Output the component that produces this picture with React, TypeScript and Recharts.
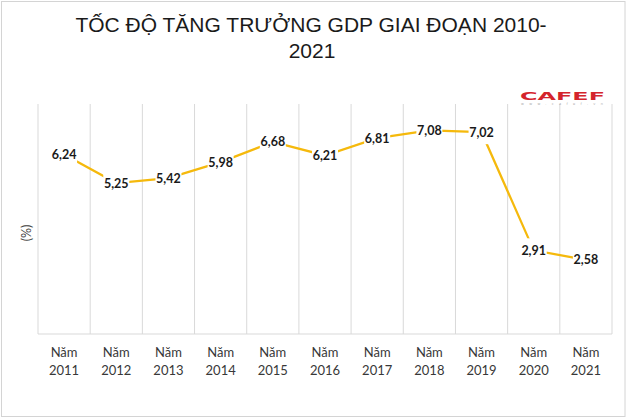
import React from "react";
import { LineChart, Line, XAxis, YAxis, CartesianGrid, LabelList } from "recharts";

const years = ["2011", "2012", "2013", "2014", "2015", "2016", "2017", "2018", "2019", "2020", "2021"];
const growth = [6.24, 5.25, 5.42, 5.98, 6.68, 6.21, 6.81, 7.08, 7.02, 2.91, 2.58];
const tickPrefix = "Năm";
const titleLine1 = "TỐC ĐỘ TĂNG TRƯỞNG GDP GIAI ĐOẠN 2010-";
const titleLine2 = "2021";
const yLabel = "(%)";
const yDomain = [0, 8];

const data = years.map((year, i) => ({ pos: i + 0.5, year, value: growth[i] }));
const labelTicks = data.map((d) => d.pos);
const boundaryTicks = [0, ...data.map((d, i) => i + 1)];

const fmt = (v: number) => v.toFixed(2).replace(".", ",");

const YearTick = (props: any) => {
  const { x, y, payload } = props;
  const entry = data.find((d) => d.pos === payload.value);
  if (!entry) return null;
  return (
    <text x={x} y={y} textAnchor="middle" fontFamily="Lato, 'Open Sans', sans-serif" fontSize={13} fill="#383838">
      <tspan x={x} dy={23}>{tickPrefix}</tspan>
      <tspan x={x} dy={17.5}>{entry.year}</tspan>
    </text>
  );
};

const ValueLabel = (props: any) => {
  const { x, y, value } = props;
  if (x == null || y == null) return null;
  return (
    <g>
      <rect x={x - 13} y={y - 12} width={26} height={24} fill="#ffffff" />
      <text
        x={x}
        y={y + 4.5}
        textAnchor="middle"
        fontFamily="Lato, 'Open Sans', sans-serif"
        fontWeight={700}
        fontSize={12.5}
        fill="#1a1a1a"
      >
        {fmt(value)}
      </text>
    </g>
  );
};

export default function App() {
  return (
    <div style={{ position: "fixed", left: 0, top: 0, width: 630, height: 420, background: "#ffffff" }}>
      <LineChart
        width={630}
        height={420}
        data={data}
        margin={{ top: 104, right: 18, bottom: 56, left: 38 }}
      >
        <CartesianGrid xAxisId="grid" vertical horizontal={false} stroke="#d9d9d9" strokeWidth={1} />
        <XAxis
          xAxisId="grid"
          type="number"
          dataKey="pos"
          domain={[0, years.length]}
          ticks={boundaryTicks}
          hide
        />
        <XAxis
          xAxisId="cat"
          type="number"
          dataKey="pos"
          domain={[0, years.length]}
          ticks={labelTicks}
          interval={0}
          tick={<YearTick />}
          tickLine={false}
          tickSize={0}
          tickMargin={0}
          axisLine={{ stroke: "#d9d9d9", strokeWidth: 1 }}
        />
        <YAxis domain={yDomain} hide />
        <Line
          xAxisId="cat"
          type="linear"
          dataKey="value"
          stroke="#F5B90C"
          strokeWidth={2.25}
          dot={false}
          isAnimationActive={false}
        >
          <LabelList dataKey="value" content={<ValueLabel />} />
        </Line>
      </LineChart>
      <svg
        width={630}
        height={420}
        style={{ position: "absolute", left: 0, top: 0, pointerEvents: "none" }}
      >
        <rect x={1.5} y={1.5} width={623.5} height={415} fill="none" stroke="#d4d4d4" strokeWidth={1} />
        <text x={311} y={32} textAnchor="middle" fontFamily="'Liberation Sans', Arial, sans-serif" fontSize={21} fill="#1a1a1a">
          {titleLine1}
        </text>
        <text x={312} y={58} textAnchor="middle" fontFamily="'Liberation Sans', Arial, sans-serif" fontSize={21} fill="#1a1a1a">
          {titleLine2}
        </text>
        <text
          x={520}
          y={99.5}
          fontFamily="'DejaVu Sans', sans-serif"
          fontWeight={700}
          fontSize={11}
          fill="#d4242c"
          textLength={85}
          lengthAdjust="spacingAndGlyphs"
        >
          CAFEF
        </text>
        <text
          x={521}
          y={104.5}
          fontFamily="'DejaVu Sans', sans-serif"
          fontSize={3.5}
          fill="#b0b0b0"
          textLength={82}
          lengthAdjust="spacing"
        >
          www.cafef.vn
        </text>
        <text
          x={0}
          y={0}
          transform="translate(31 233) rotate(-90)"
          textAnchor="middle"
          fontFamily="Lato, 'Open Sans', sans-serif"
          fontSize={12.5}
          fill="#404040"
        >
          {yLabel}
        </text>
      </svg>
    </div>
  );
}
